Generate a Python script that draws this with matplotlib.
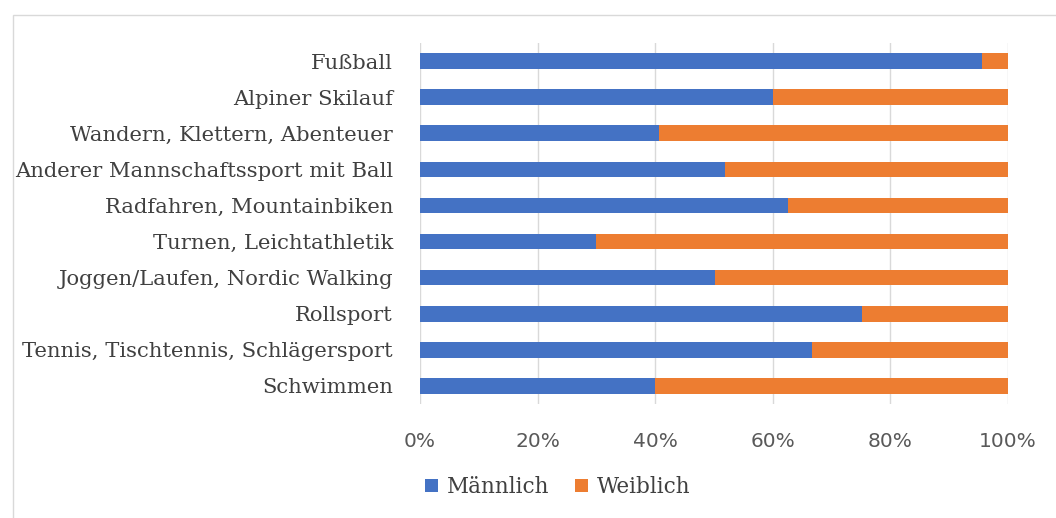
import matplotlib
matplotlib.use("Agg")
import matplotlib.pyplot as plt
from matplotlib.patches import Rectangle
from matplotlib.ticker import PercentFormatter

categories = ["Fußball", "Alpiner Skilauf", "Wandern, Klettern, Abenteuer",
              "Anderer Mannschaftssport mit Ball", "Radfahren, Mountainbiken",
              "Turnen, Leichtathletik", "Joggen/Laufen, Nordic Walking",
              "Rollsport", "Tennis, Tischtennis, Schlägersport", "Schwimmen"]
maennlich = [95.6, 60.1, 40.7, 51.9, 62.5, 30.0, 50.1, 75.1, 66.7, 40.0]
weiblich = [100 - v for v in maennlich]
series_names = ["Männlich", "Weiblich"]
colors = ["#4472C4", "#ED7D31"]
ticks = [0, 20, 40, 60, 80, 100]

W, H = 1056, 518
fig = plt.figure(figsize=(W / 100, H / 100), dpi=100)
fig.patches.append(Rectangle((13 / W, -0.1), 1.2, 1 - 15 / H + 0.1,
                             transform=fig.transFigure, fill=False,
                             edgecolor="#d9d9d9", linewidth=1))

ax = fig.add_axes([420 / W, 1 - 404 / H, 588 / W, 361 / H])
y = list(range(len(categories)))
ax.barh(y, maennlich, height=0.43, color=colors[0], label=series_names[0], zorder=3)
ax.barh(y, weiblich, left=maennlich, height=0.43, color=colors[1], label=series_names[1], zorder=3)
ax.set_ylim(len(categories) - 0.5, -0.5)
ax.set_xlim(0, 100)
ax.set_xticks(ticks)
ax.xaxis.set_major_formatter(PercentFormatter(decimals=0))
ax.set_yticks(y)
ax.set_yticklabels(categories, fontfamily="DejaVu Serif", fontsize=15.2, color="#404040")
for lab in ax.get_xticklabels():
    lab.set_fontfamily("DejaVu Sans")
    lab.set_fontsize(14.5)
    lab.set_color("#595959")
ax.tick_params(axis="both", length=0)
ax.tick_params(axis="y", pad=19.5)
ax.tick_params(axis="x", pad=20)
ax.grid(axis="x", color="#d9d9d9", linewidth=1, zorder=0)
for s in ax.spines.values():
    s.set_visible(False)

leg = fig.legend(loc="center", bbox_to_anchor=(558 / W, 1 - 487 / H), ncol=2, frameon=False,
                 prop={"family": "DejaVu Serif", "size": 15.5},
                 handlelength=0.6, handleheight=0.6, handletextpad=0.4, columnspacing=1.2)
for t in leg.get_texts():
    t.set_color("#404040")

fig.savefig("out.png", dpi=100)
